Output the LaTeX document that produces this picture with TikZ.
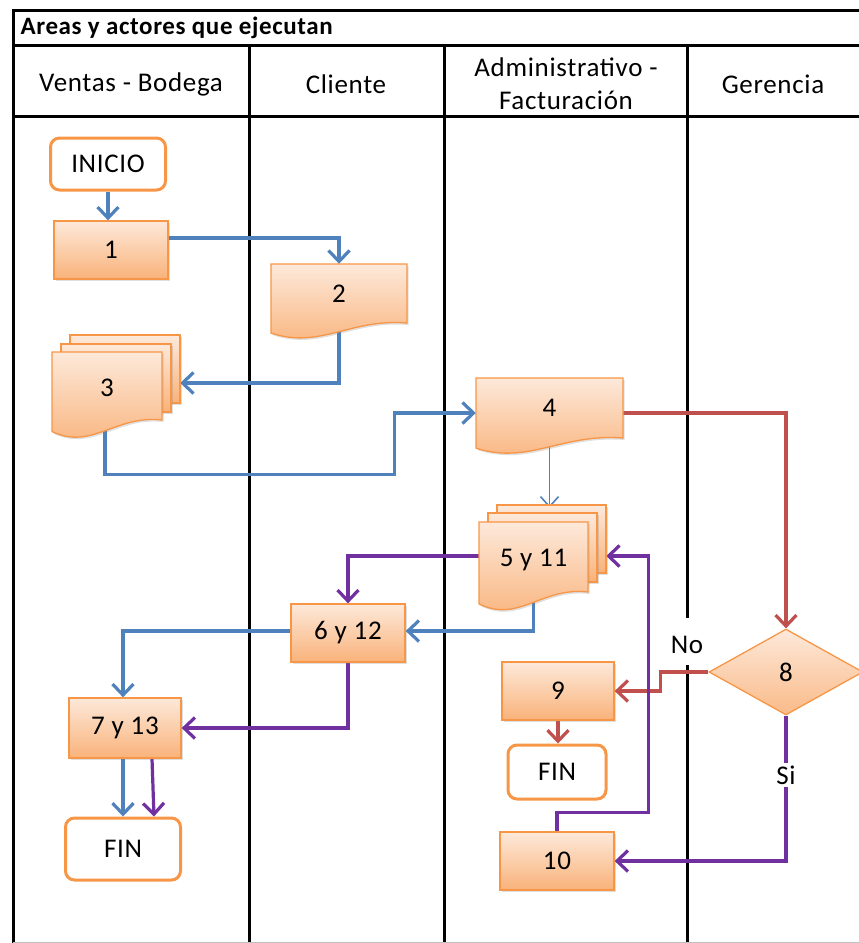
\documentclass[tikz,border=0pt]{standalone}
\usepackage{fontspec}
\setmainfont[LetterSpace=2.5]{Carlito}
\usetikzlibrary{arrows.meta,shapes.geometric,shadows}
\definecolor{cblue}{HTML}{4F81BD}
\definecolor{cred}{HTML}{C0504D}
\definecolor{cpurple}{HTML}{7030A0}
\definecolor{corange}{HTML}{F79646}
\definecolor{ctop}{HTML}{FDE9DA}
\definecolor{cbot}{HTML}{F9B27A}
\pgfdeclarelayer{lanes}
\pgfdeclarelayer{conn}
\pgfsetlayers{lanes,conn,main}
\newcommand\docshape[4]{%
  \draw[docstyle] (#1,#2) -- (#3,#2) -- (#3,#4)
    .. controls ({#1+0.58*(#3-#1)},{#4-0.08*(#4-#2)}) and ({#1+0.36*(#3-#1)},{#4+0.45*(#4-#2)}) ..
    (#1,{#4+0.17*(#4-#2)}) -- cycle;}
\newcommand\backpage[4]{\draw[docstyle] (#1,#2) rectangle (#3,#4);}
\begin{document}
\begin{tikzpicture}[x=1pt,y=-1pt,
  every node/.style={font={\fontsize{27}{32}\selectfont}, text=black},
  lane/.style={line width=3pt, black},
  docstyle/.style={draw=corange, line width=1.3pt, top color=ctop, bottom color=cbot,
    drop shadow={opacity=0.25, shadow xshift=1.5pt, shadow yshift=-2pt}},
  proc/.style={rectangle, draw=corange, line width=1.3pt, top color=ctop, bottom color=cbot,
    drop shadow={opacity=0.25, shadow xshift=1.5pt, shadow yshift=-2pt}, inner sep=0pt},
  docbox/.style={rectangle, draw=none, inner sep=0pt},
  term/.style={rectangle, rounded corners=9pt, draw=corange, line width=3pt, fill=white, inner sep=0pt},
  arr/.style={line width=3.2pt, -{Straight Barb[length=11pt,width=21pt]}},
  thinarr/.style={line width=1.6pt, -{Straight Barb[length=10pt,width=18pt]}},
  hdr/.style={align=center, font={\fontsize{27}{33}\selectfont}}
]
\useasboundingbox (0,0) rectangle (859,943);
\clip (0,0) rectangle (859,943);

% ---- swimlane table ----
\begin{pgfonlayer}{lanes}
\draw[lane] (13,945) -- (13,10) -- (862,10);
\draw[lane] (13,45) -- (862,45);
\draw[lane] (13,116) -- (862,116);
\draw[lane] (249,45) -- (249,945);
\draw[lane] (444,45) -- (444,945);
\draw[lane] (687,45) -- (687,618);
\draw[lane] (687,665) -- (687,945);
\draw[black!25, line width=1pt] (13,942) -- (862,942);
\end{pgfonlayer}

\node[anchor=west, font={\bfseries\fontsize{25}{28}\selectfont}] (title) at (17,28) {Areas y actores que ejecutan};
\node[hdr] (h1) at (131,84) {Ventas - Bodega};
\node[hdr] (h2) at (346,84) {Cliente};
\node[hdr] (h3) at (566,84) {Administrativo -\\Facturación};
\node[hdr] (h4) at (773,84) {Gerencia};

% ---- shapes ----
\node[term, minimum width=115pt, minimum height=52pt] (ini) at (108,164) {INICIO};
\node[proc, minimum width=114pt, minimum height=58pt] (n1) at (111,250) {1};

\docshape{271}{264}{407}{323}
\node[docbox, minimum width=136pt, minimum height=59pt] (n2) at (339,293.5) {2};

\backpage{70}{335}{180}{403}
\backpage{61}{344}{171}{412}
\docshape{52}{352}{162}{420}
\node[docbox, minimum width=110pt, minimum height=68pt] (n3) at (107,388) {3};

\docshape{476}{378}{623}{438}
\node[docbox, minimum width=147pt, minimum height=60pt] (n4) at (549.5,408) {4};

\backpage{497}{505}{606}{573}
\backpage{488}{513}{597}{582}
\docshape{479}{522}{588}{592}
\node[docbox, minimum width=109pt, minimum height=70pt] (n5) at (533.5,560) {5 y 11};

\node[proc, minimum width=114pt, minimum height=58pt] (n6) at (348,633) {6 y 12};
\node[proc, minimum width=112pt, minimum height=60pt] (n7) at (125,728) {7 y 13};
\node[term, minimum width=115pt, minimum height=62pt] (fin1) at (123,849) {FIN};

\node[diamond, draw=corange, line width=1.3pt, top color=ctop, bottom color=cbot!85!ctop,
      minimum width=154pt, minimum height=86pt, inner sep=0pt] (n8) at (786,672) {8};
\node[proc, minimum width=112pt, minimum height=58pt] (n9) at (558,691) {9};
\node[term, minimum width=98pt, minimum height=54pt] (fin2) at (557,772) {FIN};
\node[proc, minimum width=114pt, minimum height=58pt] (n10) at (557,861) {10};

\node (no) at (687,645) {No};

% ---- connectors ----
\begin{pgfonlayer}{conn}
\draw[arr, cblue] (ini.south) -- (ini.south |- n1.north);
\draw[arr, cblue] ([yshift=12pt]n1.east) -| (n2.north);
\draw[arr, cblue] (n2.south) |- ([xshift=18pt,yshift=5pt]n3.east);
\draw[arr, cblue] ([xshift=-2pt]n3.south) -- ++(0,52) -| ([xshift=-81pt,yshift=-5pt]n4.west) -- ([yshift=-5pt]n4.west);
\draw[thinarr, cblue] (n4.south) -- ([xshift=16pt,yshift=17pt]n5.north);
\draw[arr, cred] ([yshift=-5pt]n4.east) -| (n8.north);
\draw[arr, cpurple] ([yshift=4pt]n5.west) -| (n6.north);
\draw[arr, cblue] (n5.south) |- ([yshift=2pt]n6.east);
\draw[arr, cblue] ([yshift=2pt]n6.west) -| ([xshift=-2pt]n7.north);
\draw[arr, cpurple] (n6.south) |- (n7.east);
\draw[arr, cblue] (fin1.north |- n7.south) -- (fin1.north);
\draw[arr, cpurple] ([xshift=27pt]n7.south) -- ([xshift=31pt]fin1.north);
\draw[arr, cred] (n8.west) -- ++(-48,0) |- (n9.east);
\draw[arr, cred] (n9.south) -- (n9.south |- fin2.north);
\draw[arr, cpurple] (n8.south) |- (n10.east);
\draw[arr, cpurple] (n10.north) -- ++(0,-19) -| ([xshift=60pt,yshift=4pt]n5.east) -- ([xshift=18pt,yshift=4pt]n5.east);
\end{pgfonlayer}
\node[fill=white, inner sep=3pt] (si) at (786,775) {Si};
\end{tikzpicture}
\end{document}
